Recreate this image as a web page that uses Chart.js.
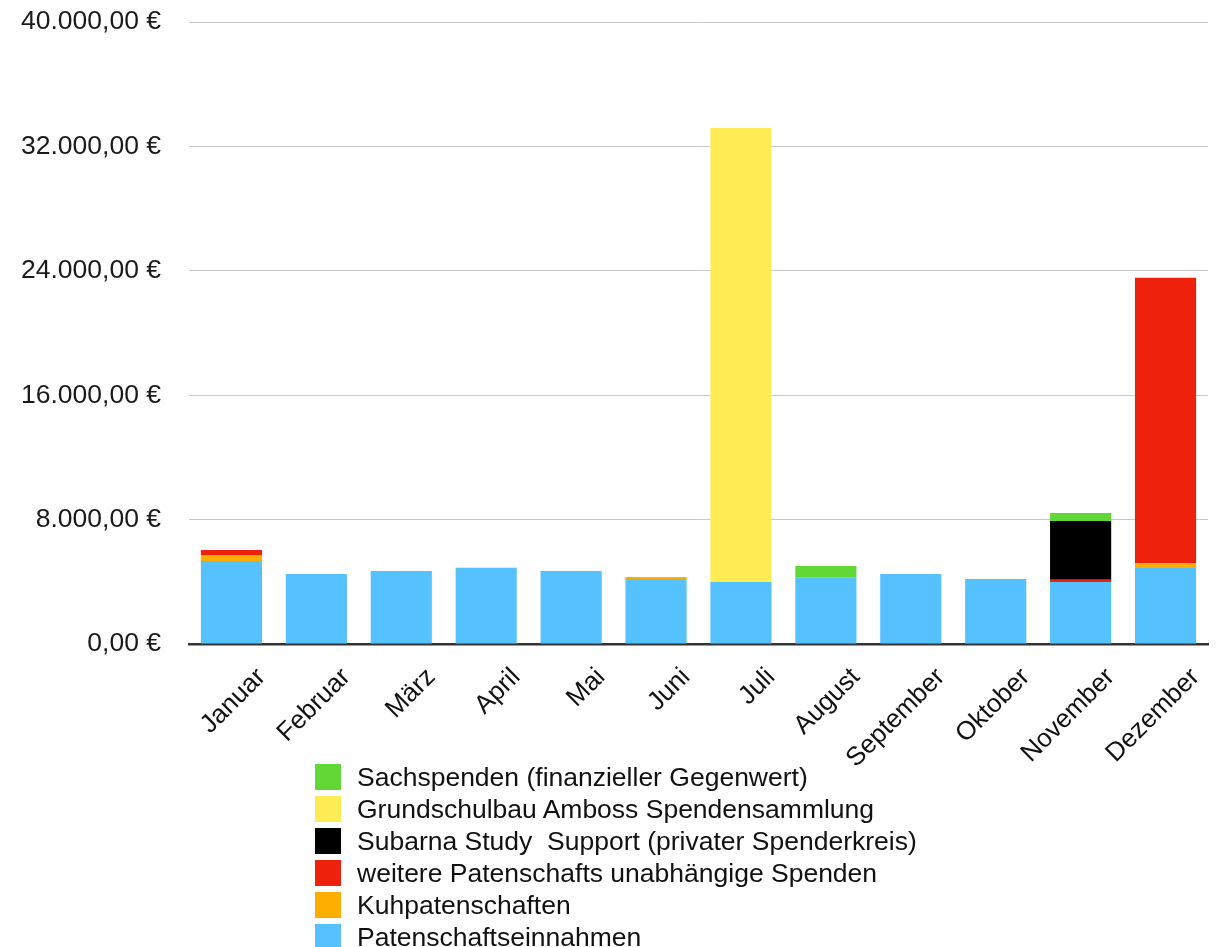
<!DOCTYPE html>
<html>
<head>
<meta charset="utf-8">
<script src="https://cdn.jsdelivr.net/npm/chart.js@4"></script>
<style>
  html, body { margin: 0; padding: 0; background: #fff; }
  #wrap { position: relative; width: 1229px; height: 947px; }
  #legend { position: absolute; left: 315px; top: 761px; font: 26.5px "Liberation Sans", Arial, sans-serif; color: #111; }
  .row { display: flex; align-items: center; height: 32px; line-height: 32px; }
  .box { width: 26px; height: 26px; margin-right: 16px; flex: none; }
</style>
</head>
<body>
<div id="wrap">
  <canvas id="chart" width="1229" height="947"></canvas>
  <div id="legend"></div>
</div>
<script>
// Spendeneinnahmen pro Monat, gestapelt nach Herkunft (Werte in €).
const months = ["Januar", "Februar", "März", "April", "Mai", "Juni", "Juli",
  "August", "September", "Oktober", "November", "Dezember"];

const patenschaften = [5340, 4500, 4700, 4900, 4700, 4180, 3990, 4300, 4500, 4180, 3990, 4890];
const kuhpatenschaften = [380, 0, 0, 0, 0, 130, 0, 0, 0, 0, 0, 320];
const weitereSpenden = [320, 0, 0, 0, 0, 0, 0, 0, 0, 0, 150, 18340];
const subarnaSupport = [0, 0, 0, 0, 0, 0, 0, 0, 0, 0, 3770, 0];
const grundschulbau = [0, 0, 0, 0, 0, 0, 29200, 0, 0, 0, 0, 0];
const sachspenden = [0, 0, 0, 0, 0, 0, 0, 710, 0, 0, 510, 0];

const yTicks = [0, 8000, 16000, 24000, 32000, 40000];

const FONT = '"Liberation Sans", Arial, sans-serif';

function euro(v) {
  const int = Math.round(v).toString().replace(/\B(?=(\d{3})+(?!\d))/g, ".");
  return `${int},00 €`;
}

const datasets = [
  { label: "Patenschaftseinnahmen", data: patenschaften, backgroundColor: "#56C1FF" },
  { label: "Kuhpatenschaften", data: kuhpatenschaften, backgroundColor: "#FEAE00" },
  { label: "weitere Patenschafts unabhängige Spenden", data: weitereSpenden, backgroundColor: "#EE220C" },
  { label: "Subarna Study  Support (privater Spenderkreis)", data: subarnaSupport, backgroundColor: "#000000" },
  { label: "Grundschulbau Amboss Spendensammlung", data: grundschulbau, backgroundColor: "#FFEC55" },
  { label: "Sachspenden (finanzieller Gegenwert)", data: sachspenden, backgroundColor: "#61D836" },
];

new Chart(document.getElementById("chart"), {
  type: "bar",
  data: { labels: months, datasets },
  options: {
    responsive: false,
    animation: false,
    layout: { padding: { left: 21, right: 21, top: 22, bottom: 163 } },
    datasets: { bar: { barPercentage: 0.72, categoryPercentage: 1 } },
    plugins: { legend: { display: false }, tooltip: { enabled: false } },
    scales: {
      x: {
        stacked: true,
        grid: { display: false },
        border: { display: true, color: "#333", width: 2.5 },
        ticks: {
          color: "#111",
          font: { family: FONT, size: 26 },
          minRotation: 45,
          maxRotation: 45,
          labelOffset: 30,
          padding: 10,
        },
      },
      y: {
        stacked: true,
        min: 0,
        max: 40000,
        afterBuildTicks: (axis) => { axis.ticks = yTicks.map((v) => ({ value: v })); },
        // invisible tick marks give the gap between labels and plot
        grid: { color: "#C8C8C8", lineWidth: 1, drawTicks: true, tickLength: 28, tickColor: "rgba(0,0,0,0)" },
        border: { display: false },
        ticks: {
          color: "#1a1a1a",
          font: { family: FONT, size: 26.5 },
          padding: 0,
          callback: (v) => euro(v),
        },
      },
    },
  },
});

// Legende wie im Original: senkrecht, oberster Stapel zuerst
const legend = document.getElementById("legend");
datasets.slice().reverse().forEach((ds) => {
  const row = document.createElement("div");
  row.className = "row";
  const box = document.createElement("span");
  box.className = "box";
  box.style.background = ds.backgroundColor;
  const txt = document.createElement("span");
  txt.textContent = ds.label;
  txt.style.whiteSpace = "pre";
  row.appendChild(box);
  row.appendChild(txt);
  legend.appendChild(row);
});
</script>
</body>
</html>
